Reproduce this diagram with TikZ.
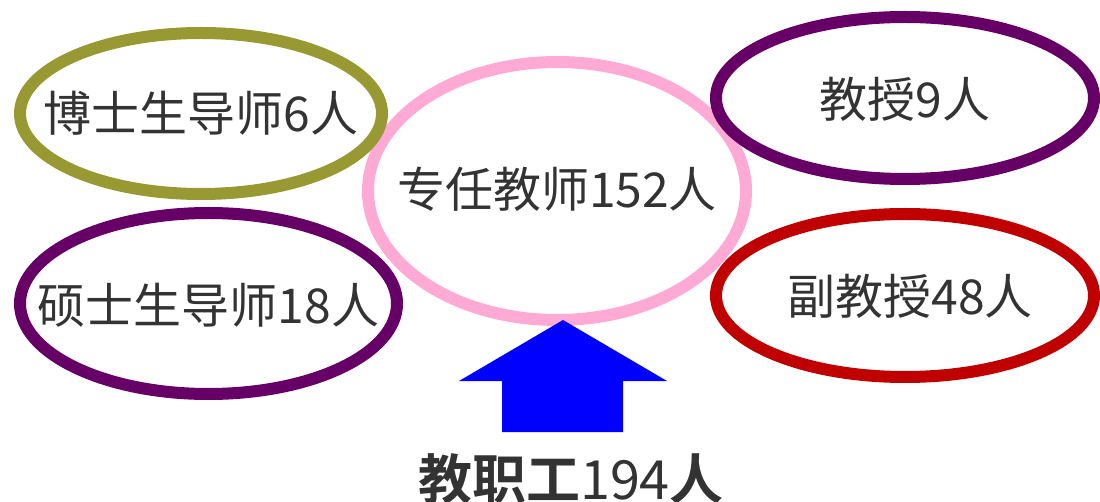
\documentclass[tikz,border=0pt]{standalone}
\usepackage{fontspec}
\newfontfamily\cjk{Noto Sans CJK SC}[BoldFont={Noto Sans CJK SC Bold}]
\definecolor{olivec}{HTML}{999933}
\definecolor{purplec}{HTML}{660066}
\definecolor{pinkc}{HTML}{FFAAD4}
\definecolor{redc}{HTML}{C00000}
\definecolor{txt}{HTML}{333333}
\begin{document}
\begin{tikzpicture}[x=1pt,y=-1pt,
  lbl/.style={inner sep=0pt, text=txt, font=\cjk\fontsize{48}{48}\selectfont},
  ring/.style={line width=12pt},
]
\useasboundingbox (0,0) rectangle (1100,502);
\node[lbl] (zr) at (557,189) {专任教师152人};
\node[lbl] (bs) at (201,113) {博士生导师6人};
\node[lbl] (ss) at (208.5,305) {硕士生导师18人};
\node[lbl] (js) at (905,99) {教授9人};
\node[lbl] (fj) at (910,296) {副教授48人};
\draw[ring, pinkc] (557,191) ellipse [x radius=189, y radius=129];
\draw[ring, olivec] (201,113.5) ellipse [x radius=181, y radius=80.5];
\draw[ring, purplec] (208.5,303.5) ellipse [x radius=188.5, y radius=90.5];
\draw[ring, purplec] (905,98) ellipse [x radius=189, y radius=81];
\draw[ring, redc] (905,295.5) ellipse [x radius=189, y radius=81.5];
\node[text=txt, font=\cjk\fontsize{54}{54}\selectfont, inner sep=0pt] (jzg) at (571,479) {\textbf{教职工}194\textbf{人}};
\fill[blue] (563,320) -- (667,381) -- (623,381) -- (623,432) -- (502,432) -- (502,381) -- (459,381) -- cycle;
\end{tikzpicture}
\end{document}
